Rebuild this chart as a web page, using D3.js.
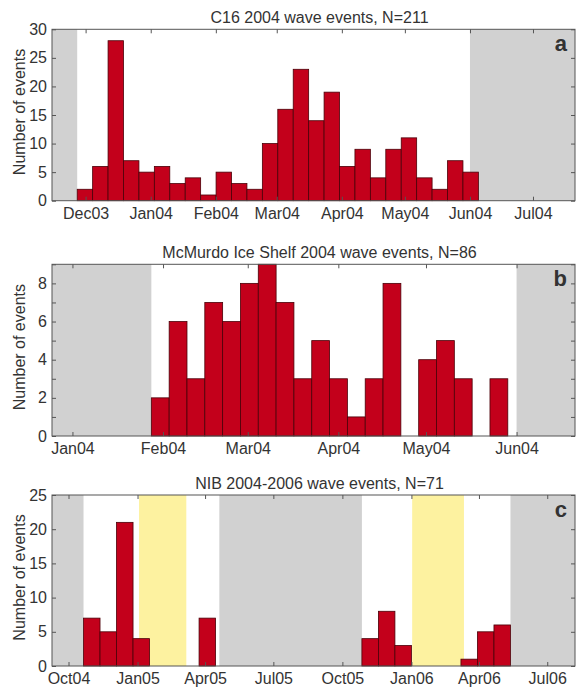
<!DOCTYPE html>
<html>
<head>
<meta charset="utf-8">
<script src="https://cdn.jsdelivr.net/npm/d3@7"></script>
<style>
body { margin: 0; background: #fff; }
svg text { font-family: "Liberation Sans", Arial, sans-serif; fill: #333; }
</style>
</head>
<body>
<svg id="fig" width="576" height="691"></svg>
<script>
var parse = d3.timeParse('%Y-%m-%d');

// panel a: C16
var aTitle = 'C16 2004 wave events, N=211';
var aCounts = [2,6,28,7,5,6,3,4,1,5,3,2,10,16,23,14,19,6,9,4,9,11,4,2,7,5];
var aBins = [['2003-11-27', '2004-06-05']];
var aDomain = ['2003-11-15', '2004-07-21'];
var aGrey = [['2003-11-15', '2003-11-27'], ['2004-06-01', '2004-07-21']];
var aTicks = ['2003-12-01','2004-01-01','2004-02-01','2004-03-01','2004-04-01','2004-05-01','2004-06-01','2004-07-01'];
var aYTicks = [0,5,10,15,20,25,30];

// panel b: McMurdo
var bTitle = 'McMurdo Ice Shelf 2004 wave events, N=86';
var bCounts = [2,6,3,7,6,8,9,7,3,5,3,1,3,8,0,4,5,3,0,3];
var bBins = [['2004-01-28', '2004-05-29']];
var bDomain = ['2003-12-25', '2004-06-21'];
var bGrey = [['2003-12-25', '2004-01-28'], ['2004-06-01', '2004-06-21']];
var bTicks = ['2004-01-01','2004-02-01','2004-03-01','2004-04-01','2004-05-01','2004-06-01'];
var bYTicks = [0,1,2,3,4,5,6,7,8,9];
var bYLabels = [0,2,4,6,8];

// panel c: NIB, two seasons
var cTitle = 'NIB 2004-2006 wave events, N=71';
var cCounts1 = [7,5,21,4,0,0,0,7];
var cCounts2 = [4,8,3,0,0,0,1,5,6];
var cBins = [['2004-10-21', '2005-04-15'], ['2005-10-27', '2006-05-13']];
var cDomain = ['2004-09-09', '2006-08-07'];
var cGrey = [['2004-09-09', '2004-10-21'], ['2005-04-20', '2005-10-27'], ['2006-05-13', '2006-08-07']];
var cYellow = [['2005-01-03', '2005-03-07'], ['2006-01-02', '2006-03-12']];
var cTicks = ['2004-10-01','2005-01-01','2005-04-01','2005-07-01','2005-10-01','2006-01-01','2006-04-01','2006-07-01'];
var cYTicks = [0,5,10,15,20,25];

var svg = d3.select('#fig');
var left = 52, right = 575;
var fmt = d3.timeFormat('%b%y');

function binsFrom(range, counts) {
	var s = parse(range[0]).getTime(), e = parse(range[1]).getTime();
	var n = counts.length;
	return counts.map(function(c, i) {
		return { x0: new Date(s + (e - s) * i / n), x1: new Date(s + (e - s) * (i + 1) / n), n: c };
	});
}

function panel(p) {
	var g = svg.append('g');
	var x = d3.scaleTime().domain(p.domain.map(parse)).range([left, right]);
	var y = d3.scaleLinear().domain([0, p.ymax]).range([p.bottom, p.top]);

	// shaded periods
	g.selectAll('.grey').data(p.grey).enter().append('rect')
		.attr('x', d => x(parse(d[0])))
		.attr('width', d => x(parse(d[1])) - x(parse(d[0])))
		.attr('y', p.top).attr('height', p.bottom - p.top)
		.attr('fill', '#d1d1d1')
	g.selectAll('.yellow').data(p.yellow || []).enter().append('rect')
		.attr('x', d => x(parse(d[0])))
		.attr('width', d => x(parse(d[1])) - x(parse(d[0])))
		.attr('y', p.top).attr('height', p.bottom - p.top)
		.attr('fill', '#fdf2a0')

	// bars
	var bins = [];
	p.bins.forEach(function(r, i) { bins = bins.concat(binsFrom(r, p.counts[i])) });
	g.selectAll('.bar').data(bins.filter(d => d.n > 0)).enter().append('rect')
		.attr('x', d => x(d.x0))
		.attr('width', d => x(d.x1) - x(d.x0))
		.attr('y', d => y(d.n))
		.attr('height', d => y(0) - y(d.n))
		.attr('fill', '#c3001b')
		.attr('stroke', '#4a0008')
		.attr('stroke-width', 0.8)

	// inward ticks on all four sides
	var xt = p.ticks.map(parse);
	g.append('g').attr('transform', 'translate(0,' + p.bottom + ')')
		.call(d3.axisBottom(x).tickValues(xt).tickFormat(fmt).tickSize(-4).tickPadding(7))
	g.append('g').attr('transform', 'translate(0,' + p.top + ')')
		.call(d3.axisTop(x).tickValues(xt).tickFormat('').tickSize(-4))
	var labs = p.ylabels || p.yticks;
	g.append('g').attr('transform', 'translate(' + left + ',0)')
		.call(d3.axisLeft(y).tickValues(p.yticks).tickFormat(d => labs.indexOf(d) >= 0 ? d : '').tickSize(-4).tickPadding(5))
	g.append('g').attr('transform', 'translate(' + right + ',0)')
		.call(d3.axisRight(y).tickValues(p.yticks).tickFormat('').tickSize(-4))
	g.selectAll('.domain').remove();
	g.selectAll('.tick line').attr('stroke', '#555')
	g.selectAll('.tick text').style('font-size', '16px').attr('fill', '#333')

	g.append('rect')
		.attr('x', left).attr('y', p.top)
		.attr('width', right - left).attr('height', p.bottom - p.top)
		.attr('fill', 'none').attr('stroke', '#555').attr('stroke-width', 1)

	g.append('text')
		.attr('x', (left + right) / 2 + 6).attr('y', p.top - 6)
		.attr('text-anchor', 'middle')
		.style('font-size', '16px')
		.text(p.title)

	g.append('text')
		.attr('transform', 'translate(25,' + ((p.top + p.bottom) / 2 - 3) + ') rotate(-90)')
		.attr('text-anchor', 'middle')
		.style('font-size', '16px')
		.text('Number of events')

	g.append('text')
		.attr('x', 567).attr('y', p.top + 22)
		.attr('text-anchor', 'end')
		.style('font-size', '22px').style('font-weight', 'bold')
		.attr('fill', '#111')
		.text(p.letter)
}

panel({ title: aTitle, letter: 'a', top: 29.3, bottom: 200.7, ymax: 30, domain: aDomain,
	grey: aGrey, bins: aBins, counts: [aCounts], ticks: aTicks, yticks: aYTicks })
panel({ title: bTitle, letter: 'b', top: 264.3, bottom: 436, ymax: 9, domain: bDomain,
	grey: bGrey, bins: bBins, counts: [bCounts], ticks: bTicks, yticks: bYTicks, ylabels: bYLabels })
panel({ title: cTitle, letter: 'c', top: 495, bottom: 666, ymax: 25, domain: cDomain,
	grey: cGrey, yellow: cYellow, bins: cBins, counts: [cCounts1, cCounts2], ticks: cTicks, yticks: cYTicks })
</script>
</body>
</html>
